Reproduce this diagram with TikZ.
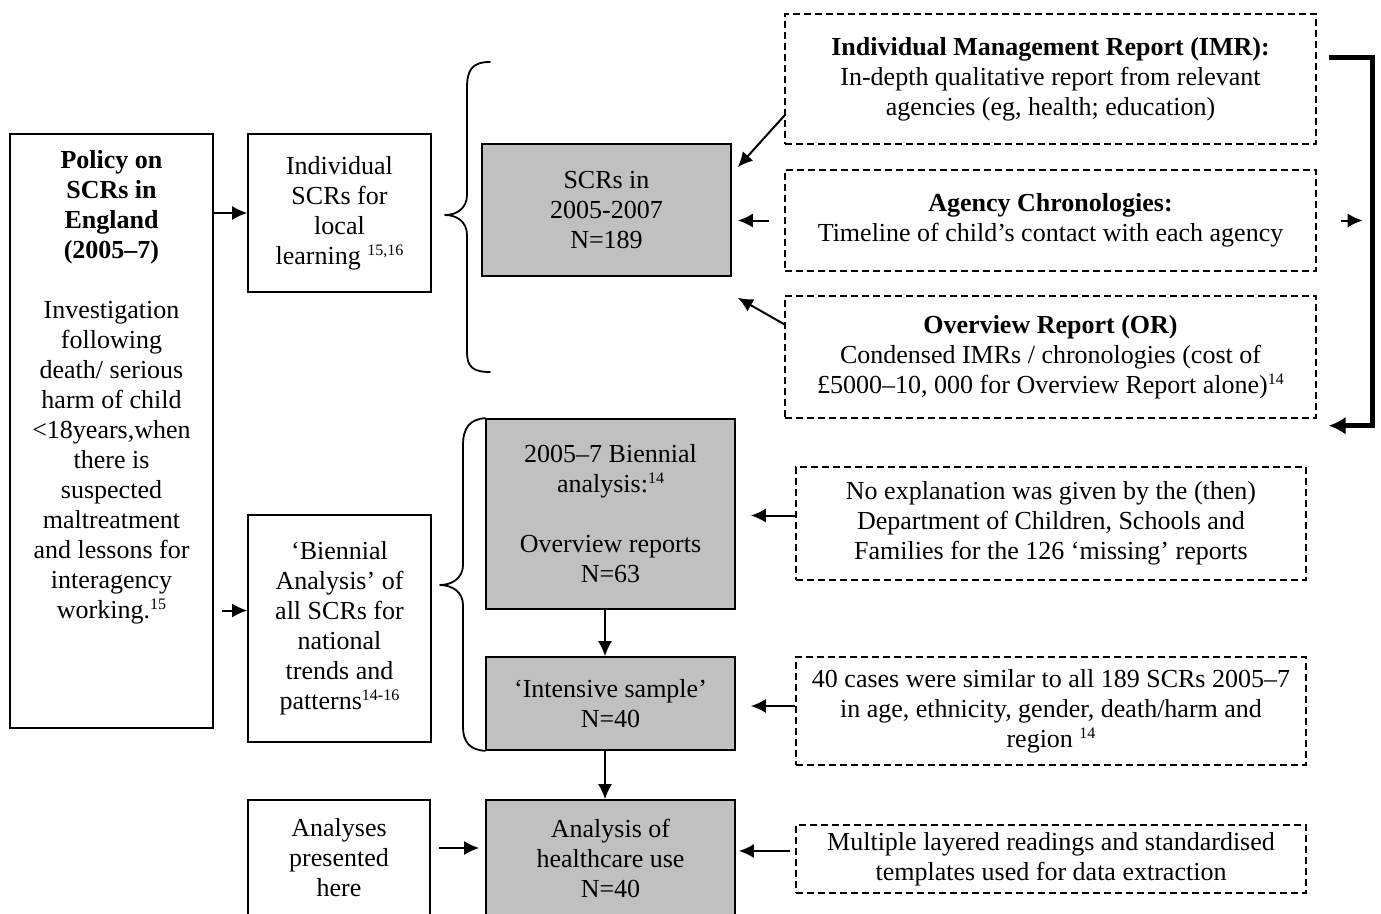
\documentclass[tikz,border=0pt]{standalone}
\usepackage{fontspec}
\setmainfont{Liberation Serif}
\usetikzlibrary{arrows.meta,calc}
\definecolor{boxgrey}{RGB}{192,192,192}
\newcommand{\supnum}[1]{\raisebox{9pt}{\fontsize{16}{16}\selectfont #1}}
\begin{document}
\begin{tikzpicture}[x=1pt,y=-1pt,
  font=\fontsize{26}{30}\selectfont,
  solidbox/.style={draw, line width=1.6pt, align=center, inner sep=0pt},
  greybox/.style={solidbox, fill=boxgrey},
  dashbox/.style={draw, line width=1.4pt, dash pattern=on 7pt off 4pt, align=center, inner sep=0pt},
  arr/.style={line width=2pt, -{Latex[length=15pt,width=14pt]}},
  bracketline/.style={line width=5pt, -{Latex[length=17pt,width=18pt]}},
  bracelines/.style={line width=1.8pt, line cap=round, line join=round},
]
\clip (0,0) rectangle (1381,913);
\fill[white] (0,0) rectangle (1381,913);

% left column
\node[solidbox, minimum width=203pt, minimum height=594pt] (policy) at (111.5,431)
  {\parbox[c][590pt][t]{200pt}{\centering\vspace*{14pt}%
   \textbf{Policy on}\\ \textbf{SCRs in}\\ \textbf{England}\\ \textbf{(2005–7)}\\[30pt]
   Investigation\\ following\\ death/ serious\\ harm of child\\ <18years,when\\ there is\\
   suspected\\ maltreatment\\ and lessons for\\ interagency\\ working.\supnum{15}}};

% second column
\node[solidbox, minimum width=183pt, minimum height=158pt] (indiv) at (339.5,213)
  {Individual\\ SCRs for\\ local\\ learning \supnum{15,16}};
\node[solidbox, minimum width=183pt, minimum height=227pt] (biennialA) at (339.5,628.5)
  {‘Biennial\\ Analysis’ of\\ all SCRs for\\ national\\ trends and\\ patterns\supnum{14-16}};
\node[solidbox, minimum width=182pt, minimum height=116pt] (analyses) at (339,858)
  {Analyses\\ presented\\ here};

% grey column
\node[greybox, minimum width=249pt, minimum height=132pt] (scrs) at (606.5,210)
  {SCRs in\\ 2005-2007\\ N=189};
\node[greybox, minimum width=249pt, minimum height=190pt] (bien) at (610.5,514)
  {2005–7 Biennial\\ analysis:\supnum{14}\\[30pt] Overview reports\\ N=63};
\node[greybox, minimum width=249pt, minimum height=93pt] (intensive) at (610.5,703.5)
  {‘Intensive sample’\\ N=40};
\node[greybox, minimum width=249pt, minimum height=116pt] (health) at (610.5,858)
  {Analysis of\\ healthcare use\\ N=40};

% dashed boxes, top
\node[dashbox, minimum width=531pt, minimum height=130pt] (imr) at (1050.5,79)
  {\textbf{Individual Management Report (IMR):}\\ In-depth qualitative report from relevant\\ agencies (eg, health; education)};
\node[dashbox, minimum width=531pt, minimum height=101pt] (agency) at (1050.5,220.5)
  {\textbf{Agency Chronologies:}\\ Timeline of child’s contact with each agency};
\node[dashbox, minimum width=531pt, minimum height=122pt] (orep) at (1050.5,357)
  {\textbf{Overview Report (OR)}\\ Condensed IMRs / chronologies (cost of\\ £5000–10, 000 for Overview Report alone)\supnum{14}};

% dashed boxes, bottom
\node[dashbox, minimum width=510pt, minimum height=113pt] (noexp) at (1051,523.5)
  {No explanation was given by the (then)\\ Department of Children, Schools and\\ Families for the 126 ‘missing’ reports};
\node[dashbox, minimum width=510pt, minimum height=108pt] (cases) at (1051,711)
  {40 cases were similar to all 189 SCRs 2005–7\\ in age, ethnicity, gender, death/harm and\\ region \supnum{14}};
\node[dashbox, minimum width=510pt, minimum height=68pt] (multi) at (1051,859)
  {Multiple layered readings and standardised\\ templates used for data extraction};

% braces
\draw[bracelines] (490,62) .. controls (472,62) and (467,70) .. (467,88)
  -- (467,195) .. controls (467,208) and (457,215) .. (445,215)
  .. controls (457,215) and (467,222) .. (467,235)
  -- (467,352) .. controls (467,366) and (472,372) .. (490,372);
\draw[bracelines] (bien.north west) .. controls (470,419) and (463,428) .. (463,445)
  -- (463,565) .. controls (463,578) and (452,585) .. (440,585)
  .. controls (452,585) and (463,592) .. (463,605)
  -- (463,727) .. controls (463,742) and (470,750) .. (intensive.south west);

% arrows, left
\draw[arr] (policy.east |- indiv.west) -- (indiv.west);
\coordinate (pb) at ($(biennialA.west)+(0,-18)$);
\draw[arr] ($(policy.east |- pb)+(8,0)$) -- (pb);
\coordinate (ah) at ($(analyses.east)+(8,-10)$);
\draw[arr] (ah) -- ($(health.west |- ah)+(-6,0)$);

% arrows, vertical
\draw[arr] (bien.south -| 605,0) -- (intensive.north -| 605,0);
\draw[arr] (intensive.south -| 605,0) -- (health.north -| 605,0);

% arrows into SCRs box
\draw[arr] ($(imr.south west)+(0,-29)$) -- ($(scrs.north east)+(6,24)$);
\draw[arr] ($(agency.west)+(-15,0)$) -- ($(scrs.east |- agency.west)+(6,0)$);
\draw[arr] ($(orep.north west)+(0,29)$) -- ($(scrs.south east)+(6,21)$);

% arrows from lower dashed boxes
\coordinate (ne) at ($(noexp.west)+(0,-8)$);
\draw[arr] (ne) -- ($(bien.east |- ne)+(15,0)$);
\coordinate (ce) at ($(cases.west)+(0,-5)$);
\draw[arr] (ce) -- ($(intensive.east |- ce)+(15,0)$);
\coordinate (me) at ($(multi.west)+(-5,-8)$);
\draw[arr] (me) -- ($(health.east |- me)+(3,0)$);

% right bracket
\draw[bracketline, line join=miter] ($(imr.east)+(12,-22)$) -| ($(orep.south east)+(56,7)$) -- ($(orep.south east)+(12,7)$);
\draw[arr] ($(agency.east)+(24,0)$) -- ($(agency.east)+(46,0)$);
\end{tikzpicture}
\end{document}
